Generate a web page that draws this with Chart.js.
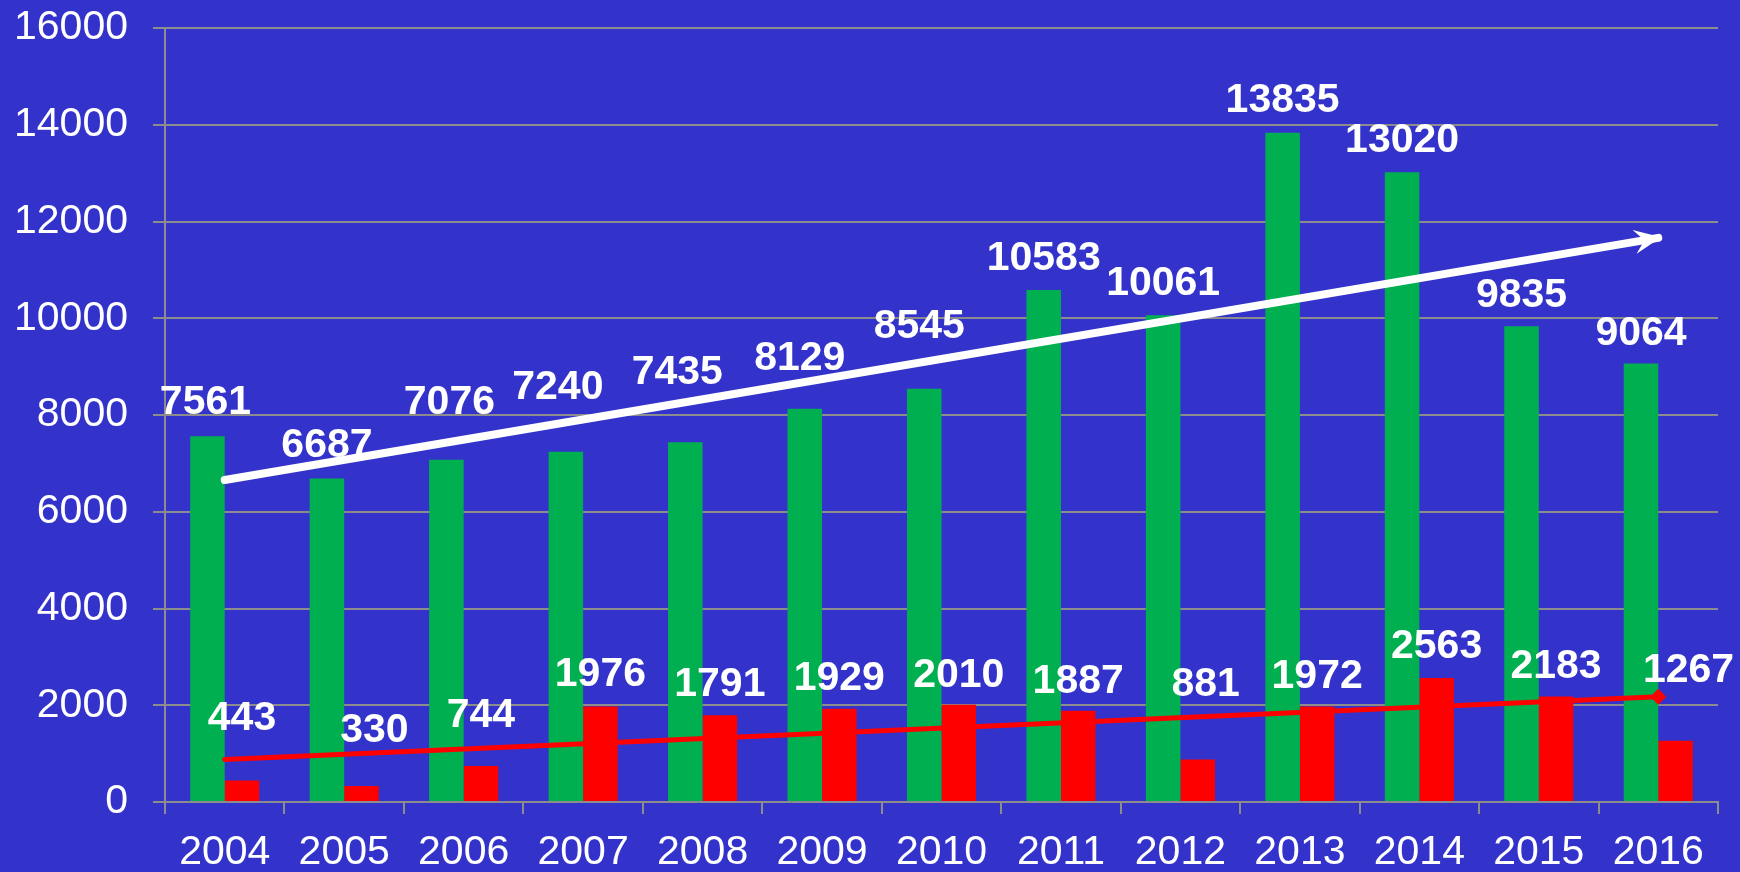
<!DOCTYPE html>
<html>
<head>
<meta charset="utf-8">
<script src="https://cdn.jsdelivr.net/npm/chart.js@4.4.1/dist/chart.umd.min.js"></script>
<style>
  html, body { margin: 0; padding: 0; background: #3333cc; }
  canvas { display: block; background: #3333cc; }
</style>
</head>
<body>
<canvas id="chart" width="1740" height="872"></canvas>
<script>
// values
const years = ['2004', '2005', '2006', '2007', '2008', '2009', '2010', '2011', '2012', '2013', '2014', '2015', '2016'];
const greenValues = [7561, 6687, 7076, 7240, 7435, 8129, 8545, 10583, 10061, 13835, 13020, 9835, 9064];
const redValues = [443, 330, 744, 1976, 1791, 1929, 2010, 1887, 881, 1972, 2563, 2183, 1267];
// trend lines, start and end
const greenTrend = [6655, 11662];
const redTrend = [880, 2175];
const yTicks = [0, 2000, 4000, 6000, 8000, 10000, 12000, 14000, 16000];

// label nudges (pixels) so labels clear the trend lines like in the original
const greenLabelLift = [22, 22, 46, 53, 58, 39, 51, 20, 20, 21, 20, 19, 19];
const greenLabelShift = [-2, 0, 3, -8, -8, -5, -5, 0, 0, 0, 0, 0, 0];
const redLabelLift = [51, 44, 39, 20, 19, 19, 18, 18, 63, 19, 20, 18, 59];
const redLabelShift = [0, 13, 0, 0, 0, 0, 0, 0, 8, 0, 0, 0, 13];

const gridColor = '#8c8c8c';
const fontFamily = '"Liberation Sans", Arial, sans-serif';

const decorPlugin = {
  id: 'decor',
  afterDatasetsDraw(chart) {
    const ctx = chart.ctx;
    ctx.save();

    // arrow head at the end of the white trend line
    const pts = chart.getDatasetMeta(2).data;
    const a = pts[0], b = pts[pts.length - 1];
    const len = Math.hypot(b.x - a.x, b.y - a.y);
    const dx = (b.x - a.x) / len, dy = (b.y - a.y) / len;
    const nx = -dy, ny = dx;
    const tx = b.x + 3 * dx, ty = b.y + 3 * dy;
    ctx.fillStyle = '#ffffff';
    ctx.beginPath();
    ctx.moveTo(tx, ty);
    ctx.lineTo(tx - 27 * dx + 12 * nx, ty - 27 * dy + 12 * ny);
    ctx.lineTo(tx - 17 * dx, ty - 17 * dy);
    ctx.lineTo(tx - 27 * dx - 12 * nx, ty - 27 * dy - 12 * ny);
    ctx.closePath();
    ctx.fill();

    // value labels
    ctx.font = 'bold 41px ' + fontFamily;
    ctx.textAlign = 'center';
    ctx.textBaseline = 'alphabetic';
    chart.getDatasetMeta(0).data.forEach((bar, i) => {
      ctx.fillText(String(greenValues[i]), bar.x + greenLabelShift[i], bar.y - greenLabelLift[i]);
    });
    chart.getDatasetMeta(1).data.forEach((bar, i) => {
      ctx.fillText(String(redValues[i]), bar.x + redLabelShift[i], bar.y - redLabelLift[i]);
    });
    ctx.restore();
  }
};

new Chart(document.getElementById('chart'), {
  type: 'bar',
  data: {
    labels: years,
    datasets: [
      {
        data: greenValues,
        backgroundColor: '#00b050',
        categoryPercentage: 0.578,
        barPercentage: 1.0,
        order: 2
      },
      {
        data: redValues,
        backgroundColor: '#ff0000',
        categoryPercentage: 0.578,
        barPercentage: 1.0,
        order: 2
      },
      {
        type: 'line',
        data: [{ x: years[0], y: greenTrend[0] }, { x: years[years.length - 1], y: greenTrend[1] }],
        borderColor: '#ffffff',
        borderWidth: 8,
        borderCapStyle: 'round',
        pointRadius: 0,
        order: 0
      },
      {
        type: 'line',
        data: [{ x: years[0], y: redTrend[0] }, { x: years[years.length - 1], y: redTrend[1] }],
        borderColor: '#ff0000',
        borderWidth: 5,
        borderCapStyle: 'round',
        pointStyle: 'rectRot',
        pointRadius: [0, 8],
        pointBackgroundColor: '#ff0000',
        pointBorderWidth: 0,
        order: 1
      }
    ]
  },
  options: {
    responsive: false,
    animation: false,
    layout: { padding: { left: 0, right: 22, top: 28, bottom: 0 } },
    plugins: {
      legend: { display: false },
      tooltip: { enabled: false }
    },
    scales: {
      x: {
        grid: {
          display: true,
          drawOnChartArea: false,
          drawTicks: true,
          tickLength: 12,
          color: gridColor,
          lineWidth: 2
        },
        border: { display: true, color: gridColor, width: 2 },
        ticks: {
          color: '#ffffff',
          font: { family: fontFamily, size: 41 },
          padding: 14,
          maxRotation: 0,
          autoSkip: false
        },
        afterFit(scale) { scale.height = 70; }
      },
      y: {
        min: 0,
        max: 16000,
        afterBuildTicks(scale) { scale.ticks = yTicks.map(v => ({ value: v })); },
        grid: {
          color: gridColor,
          lineWidth: 2,
          tickLength: 12,
          drawTicks: true
        },
        border: { display: true, color: gridColor, width: 2 },
        ticks: {
          color: '#ffffff',
          font: { family: fontFamily, size: 41 },
          padding: 25,
          callback: v => String(v)
        },
        afterFit(scale) {
          scale.width = 165;
          scale.paddingTop = 0;
          scale.paddingBottom = 0;
        }
      }
    }
  },
  plugins: [decorPlugin]
});
</script>
</body>
</html>
